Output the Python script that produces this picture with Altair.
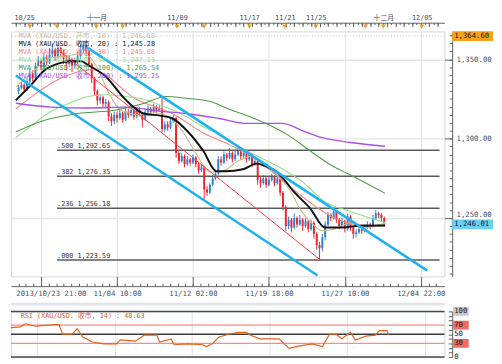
import altair as alt
import pandas as pd

# ---------------- candles (bar index 1..131) ----------------
first_open = 1330
closes = [
    1332, 1334, 1331, 1336,
    1341, 1338, 1346,
    1349, 1345, 1351, 1348, 1353,
    1356, 1352, 1357, 1354, 1350,
    1347, 1350, 1346, 1349, 1352,
    1356, 1359, 1355,
    1347, 1338, 1330, 1324,
    1326, 1322, 1323,
    1314, 1311, 1315, 1313,
    1316, 1312, 1317, 1315, 1318,
    1314, 1318, 1316, 1312, 1317,
    1319, 1317, 1320, 1318, 1319,
    1306,
    1309, 1307, 1311, 1313,
    1291,
    1286, 1289, 1284, 1287, 1285, 1288, 1284,
    1280, 1282,
    1268,
    1266, 1271, 1275, 1278,
    1287, 1285, 1290, 1288,
    1291, 1287, 1290, 1292, 1289, 1291,
    1287, 1290, 1284, 1286,
    1274, 1272, 1275, 1271, 1274, 1276, 1272, 1275,
    1266, 1257, 1245,
    1249, 1244, 1250, 1246, 1249, 1245, 1248, 1243, 1247,
    1240, 1233, 1231,
    1238, 1246, 1252,
    1250, 1254, 1249,
    1245, 1248, 1243, 1251,
    1244, 1240, 1241,
    1243, 1242, 1244, 1246, 1245,
    1250, 1253, 1252,
    1250, 1246.01,
]
highs = [
    1334, 1336, 1335, 1338,
    1344, 1343, 1348,
    1352, 1350, 1354, 1353, 1357,
    1360, 1357, 1360, 1358, 1356,
    1352, 1352, 1351, 1351, 1355,
    1359, 1361.71, 1360,
    1356, 1348, 1339, 1331,
    1328, 1327, 1325,
    1324, 1316, 1317, 1317,
    1319, 1317, 1320, 1319, 1321,
    1319, 1320, 1320, 1317, 1319,
    1321, 1320, 1322, 1321, 1321,
    1326,
    1311, 1311, 1313, 1315,
    1314,
    1292, 1291, 1290, 1289, 1288, 1290, 1289,
    1285, 1284,
    1283,
    1270, 1272, 1277, 1280,
    1289, 1289, 1292, 1291,
    1294, 1292, 1293, 1294, 1293, 1293,
    1292, 1292, 1291, 1288,
    1287, 1276, 1277, 1276, 1276, 1278, 1277, 1277,
    1276, 1267, 1258,
    1251, 1250, 1253, 1251, 1252, 1250, 1250, 1249, 1249,
    1248, 1241, 1235,
    1240, 1248, 1254,
    1253, 1255.6, 1255,
    1250, 1250, 1249, 1253,
    1252, 1245, 1243,
    1245, 1244, 1246, 1248, 1247,
    1252, 1255, 1254,
    1253, 1251,
]
lows = [
    1328, 1331, 1329, 1330,
    1335, 1336, 1337,
    1345, 1343, 1344, 1346, 1347,
    1351, 1349, 1350, 1351, 1347,
    1343, 1345, 1342, 1344, 1347,
    1350, 1354, 1352,
    1345, 1335, 1327, 1321,
    1322, 1320, 1319,
    1311, 1308, 1309, 1310,
    1312, 1310, 1311, 1313, 1314,
    1312, 1313, 1314, 1307, 1311,
    1316, 1315, 1316, 1316, 1317,
    1304,
    1304, 1305, 1306, 1310,
    1288,
    1284, 1285, 1282, 1283, 1283, 1284, 1282,
    1278, 1279,
    1262,
    1264, 1265, 1270, 1274,
    1277, 1283, 1284, 1286,
    1287, 1285, 1286, 1289, 1287, 1288,
    1285, 1286, 1282, 1283,
    1271, 1269, 1271, 1269, 1270, 1273, 1270, 1271,
    1264, 1255, 1242,
    1243, 1241, 1243, 1244, 1245, 1242, 1244, 1241, 1242,
    1237, 1230, 1223.59,
    1229, 1236, 1245,
    1248, 1249, 1247,
    1243, 1244, 1241, 1242,
    1242, 1237, 1238,
    1240, 1240, 1241, 1243, 1243,
    1244, 1249, 1250,
    1248, 1245,
]

# ---------------- moving averages (bar index, price) ----------------
ma10_i = [0, 5.67, 12.3, 19, 24, 29, 32.3, 37.3, 44, 49, 54, 59, 64, 69, 74, 79, 84, 89, 94, 97.3,
          101.3, 105.7, 109, 114, 119, 124, 129, 131.3]
ma10_v = [1332.5, 1341.6, 1350.6, 1352.4, 1353.6, 1344.6, 1331.5, 1318.0, 1315.0, 1316.3, 1314.5, 1305.4,
          1291.0, 1279.0, 1280.0, 1286.0, 1289.0, 1282.0, 1275.0, 1268.0, 1255.0, 1246.0, 1242.0, 1243.5,
          1247.0, 1244.0, 1245.8, 1246.68]
ma20_i = [0, 5.67, 10, 15.67, 19, 23.3, 25.7, 32.3, 38, 42.3, 45.7, 51.3, 55.7, 61.3, 66.7, 71.3, 74.7,
          80.7, 85.7, 89, 93.3, 99, 104.7, 110, 115.7, 122.3, 131.3]
ma20_v = [1324.1, 1334.3, 1342.8, 1347.6, 1348.8, 1348.8, 1346.4, 1338.6, 1326.5, 1319.3, 1315.7, 1314.5,
          1312.7, 1304.2, 1292.2, 1279.5, 1279.5, 1280.7, 1284.3, 1282.5, 1278.3, 1266.3, 1256.0, 1244.0,
          1244.0, 1245.2, 1245.28]
ma30_i = [0, 5.67, 13.3, 21.3, 27.3, 32.3, 38, 42.3, 49, 55.7, 66.7, 75.7, 85.7, 91.3, 99, 106.7, 113.3,
          121.3, 131.3]
ma30_v = [1318.7, 1326.5, 1335.5, 1341.6, 1343.4, 1339.8, 1331.3, 1325.3, 1320.5, 1315.7, 1303.6, 1296.4,
          1287.3, 1279.5, 1267.5, 1257.2, 1250.0, 1245.8, 1245.08]
ma50_i = [0, 5.67, 12.3, 19, 25.7, 32.3, 39, 45.7, 52.3, 60, 65.7, 72.3, 79, 85.7, 93.3, 102.3, 110, 119,
          131.3]
ma50_v = [1300.6, 1308.4, 1316.9, 1322.3, 1326.5, 1327.7, 1326.5, 1324.7, 1320.5, 1314.5, 1308.4, 1302.4,
          1295.2, 1289.2, 1282.5, 1272.3, 1260.2, 1254.2, 1247.13]
ma100_i = [0, 10, 21.3, 35.7, 45.7, 53.3, 61.3, 69, 75.7, 82.3, 89, 96.7, 104.7, 112.3, 119, 131.3]
ma100_v = [1304.2, 1311.4, 1315.7, 1318.1, 1322.3, 1326.5, 1325.3, 1323.5, 1318.7, 1314.5, 1309.6, 1302.4,
           1292.2, 1283.1, 1277.1, 1265.54]
ma200_i = [0, 12.3, 25.7, 39, 50, 61.3, 72.3, 82.3, 94.7, 102.3, 109, 119, 131.3]
ma200_v = [1322.3, 1319.9, 1319.3, 1319.9, 1317.5, 1315.7, 1312.7, 1309.6, 1309.6, 1304.8, 1300.6, 1297.6,
           1295.25]

ma_labels = ["MVA (XAU/USD. 开市, 10)", "MVA (XAU/USD. 收市, 20)", "MVA (XAU/USD. 收市, 30)",
             "MVA (XAU/USD. 收市, 50)", "MVA (XAU/USD. 收市, 100)", "MVA (XAU/USD. 收市, 200)"]
ma_last = [1246.68, 1245.28, 1245.08, 1247.13, 1265.54, 1295.25]

# ---------------- trend lines ----------------
chan_up_i = [25, 146.3]
chan_up_v = [1357.8, 1216.9]
chan_lo_i = [0, 107.3]
chan_lo_v = [1339.8, 1213.9]
red_i = [14.67, 108.3]
red_v = [1356.6, 1223.59]

fib_ratio = [".500", ".382", ".236", ".000"]
fib_level = [1292.65, 1276.35, 1256.18, 1223.59]
fib_start = 14.67

high_mark = 1364.60
last_price = 1246.01

# ---------------- RSI ----------------
rsi_i = [0, 3.3, 5, 9, 10, 15.7, 16.7, 18, 21.3, 23, 25, 28.3, 32.3, 36.7, 38, 43.3, 46.3, 50.7, 51.7,
         55.7, 56.7, 61.3, 66.7, 68, 70, 72.3, 75.7, 79, 81.7, 83.3, 86.7, 90, 93.3, 95, 96.7, 99, 104.7,
         108.3, 110.7, 113, 115, 118, 119.7, 123.3, 126.7, 128, 130.7, 131.3]
rsi_v = [64.6, 66, 73, 67, 69, 71, 71, 50, 50, 62, 44, 33, 29, 29, 37.5, 35, 48, 48, 33, 40, 27, 29, 27,
         23, 29, 44, 50, 54, 54, 48, 40, 40, 40, 29, 19, 23, 29, 23, 50, 50, 40, 54, 37.5, 46, 48, 58, 58,
         48.63]
rsi_last = 48.63
rsi_levels = [100, 70, 50, 30, 0]

# ---------------- axis labels ----------------
grid_idx = [9, 36, 63, 90, 117, 144]
bottom_labels = ["2013/10/23 21:00", "11/04 10:00", "11/12 02:00", "11/19 18:00", "11/27 10:00",
                 "12/04 22:00"]
top_marks = [5, 14.67, 28.67, 38, 57.33, 67, 83, 95.67, 106.67, 124.33, 130.67, 144.33]
top_label_idx = [3, 28.67, 57.33, 83, 95.67, 106.67, 130.67, 144.33]
top_labels = ["10/25", "十一月", "11/09", "11/17", "11/21", "11/25", "十二月", "12/05"]
price_ticks = [1250, 1300, 1350]

# ---------------- layout / style ----------------
W, H, HR = 446, 252, 47
XMAX = 150.67
YMIN, YMAX = 1213.25, 1367.5
MONO = "DejaVu Sans Mono, Noto Sans CJK SC, monospace"
LBL = "#46506a"
TK = "#5e5e5e"
UP, DOWN = "#2d80d8", "#e8262c"
MA_COLORS = ["#cdbb8c", "#111111", "#f4877f", "#93e08f", "#4f9a4a", "#a74cf2"]
MA_WIDTHS = [1.1, 2.0, 1.1, 1.1, 1.1, 1.4]

xs = alt.Scale(domain=[0, XMAX], nice=False, zero=False)
ys = alt.Scale(domain=[YMIN, YMAX], nice=False, zero=False)
rys = alt.Scale(domain=[0, 100], nice=False, zero=False)


def ax(**kw):
    d = dict(title=None, labels=False, ticks=False, domain=False, grid=False)
    d.update(kw)
    return alt.Axis(**d)


def lab_expr(vals, texts):
    arr = "[" + ",".join("'" + t + "'" for t in texts) + "]"
    return arr + "[indexof([" + ",".join(str(v) for v in vals) + "], datum.value)]"


ax_gridx = ax(orient="bottom", values=grid_idx, grid=True, gridColor="#e1e1e1", gridWidth=1)
ax_top_lbl = ax(orient="top", offset=10, values=top_label_idx, labels=True, tickSize=0,
                labelExpr=lab_expr(top_label_idx, top_labels), labelFont=MONO, labelFontSize=7,
                labelColor=LBL, labelPadding=1, labelOverlap=False)
ax_top_minor = ax(orient="bottom", offset=-(H + 9), values=[k * 1.5 for k in range(101)], ticks=True,
                  tickSize=2, tickColor=TK, domain=True, domainColor=TK)
ax_top_major = ax(orient="bottom", offset=-(H + 9), values=[k * 3 for k in range(51)], ticks=True,
                  tickSize=4, tickColor=TK)
ax_bot_minor = ax(orient="top", offset=-(H + 10), values=[round(9 + 2.7 * k, 2) for k in range(-3, 53)],
                  ticks=True, tickSize=3, tickColor=TK, domain=True, domainColor=TK)
ax_bot_major = ax(orient="top", offset=-(H + 10), values=grid_idx, ticks=True, tickSize=10, tickColor=TK)
ax_bot_lbl = ax(orient="bottom", offset=12, values=grid_idx, labels=True, tickSize=0,
                labelExpr=lab_expr(grid_idx, bottom_labels), labelFont=MONO, labelFontSize=7.5,
                labelColor=LBL, labelPadding=2, labelOverlap=False,
                labelAlign={"condition": {"test": "datum.value < 20", "value": "left"}, "value": "center"},
                labelOffset={"condition": {"test": "datum.value < 20", "value": -26}, "value": 0})
ax_right_lbl = ax(orient="right", offset=8, values=price_ticks, labels=True, tickSize=0,
                  format=",.2f", labelFont=MONO, labelFontSize=7.5, labelColor=LBL, labelPadding=4,
                  labelBaseline={"condition": {"test": "datum.value < 1260", "value": "bottom"},
                                 "value": "middle"},
                  domain=True, domainColor=TK, grid=True, gridColor="#e5e5e5", gridWidth=1.5)
ax_right_minor = ax(orient="left", offset=-(W + 8), values=[1215 + 5 * k for k in range(31)], ticks=True,
                    tickSize=3, tickColor=TK)
ax_right_major = ax(orient="left", offset=-(W + 8), values=price_ticks, ticks=True, tickSize=8,
                    tickColor=TK)

# ---------------- main panel ----------------
opens = [first_open] + closes[:-1]
cdf = pd.DataFrame({"i": list(range(1, len(closes) + 1)), "o": opens, "h": highs, "l": lows, "c": closes})
cdf["col"] = [UP if c >= o else DOWN for o, c in zip(opens, closes)]

wick = alt.Chart(cdf).mark_rule(strokeWidth=1).encode(
    x=alt.X("i:Q", scale=xs, axis=ax_gridx),
    y=alt.Y("l:Q", scale=ys, axis=ax_right_lbl),
    y2="h:Q",
    color=alt.Color("col:N", scale=None),
)
body = alt.Chart(cdf).mark_bar(width=2).encode(
    x=alt.X("i:Q", scale=xs, axis=ax_top_lbl),
    y=alt.Y("o:Q", scale=ys, axis=ax_right_minor),
    y2="c:Q",
    color=alt.Color("col:N", scale=None),
)

ma_sets = [(ma10_i, ma10_v), (ma20_i, ma20_v), (ma30_i, ma30_v), (ma50_i, ma50_v), (ma100_i, ma100_v),
           (ma200_i, ma200_v)]
ma_rows = []
for k, (mi, mv) in enumerate(ma_sets):
    for j, (a, b) in enumerate(zip(mi, mv)):
        ma_rows.append({"s": k, "i": a, "v": b, "col": MA_COLORS[k], "w": MA_WIDTHS[k], "ord": j})
ma_df = pd.DataFrame(ma_rows)
ma_back = alt.Chart(ma_df[ma_df.s != 1]).mark_line(interpolate="monotone").encode(
    x=alt.X("i:Q", scale=xs, axis=ax_top_minor),
    y=alt.Y("v:Q", scale=ys, axis=ax_right_major),
    detail="s:N", order="ord:Q",
    color=alt.Color("col:N", scale=None),
    strokeWidth=alt.StrokeWidth("w:Q", scale=None),
)
ma_front = alt.Chart(ma_df[ma_df.s == 1]).mark_line(interpolate="monotone").encode(
    x=alt.X("i:Q", scale=xs, axis=None),
    y=alt.Y("v:Q", scale=ys, axis=None),
    order="ord:Q",
    color=alt.Color("col:N", scale=None),
    strokeWidth=alt.StrokeWidth("w:Q", scale=None),
)

tl_rows = []
for name, ti, tv, col, w in [("up", chan_up_i, chan_up_v, "#1db2ef", 2.5),
                             ("lo", chan_lo_i, chan_lo_v, "#1db2ef", 2.5),
                             ("red", red_i, red_v, "#ff3c3c", 1.0)]:
    for j, (a, b) in enumerate(zip(ti, tv)):
        tl_rows.append({"n": name, "i": a, "v": b, "col": col, "w": w, "ord": j})
tl_df = pd.DataFrame(tl_rows)
trend = alt.Chart(tl_df).mark_line().encode(
    x=alt.X("i:Q", scale=xs, axis=ax_top_major),
    y=alt.Y("v:Q", scale=ys, axis=None),
    detail="n:N", order="ord:Q",
    color=alt.Color("col:N", scale=None),
    strokeWidth=alt.StrokeWidth("w:Q", scale=None),
)

fdf = pd.DataFrame({"lvl": fib_level, "x0": fib_start, "x1": XMAX,
                    "txt": [f"{r}  {v:,.2f}" for r, v in zip(fib_ratio, fib_level)]})
fib_rule = alt.Chart(fdf).mark_rule(color="#5a5a5a", strokeWidth=1.5).encode(
    x=alt.X("x0:Q", scale=xs, axis=ax_bot_minor), x2="x1:Q",
    y=alt.Y("lvl:Q", scale=ys, axis=None),
)
fib_text = alt.Chart(fdf).mark_text(align="left", baseline="bottom", dy=-1, font=MONO, fontSize=7,
                                    color="#333333").encode(
    x=alt.X("x0:Q", scale=xs, axis=ax_bot_major),
    y=alt.Y("lvl:Q", scale=ys, axis=None),
    text="txt:N",
)

tri = alt.Chart(pd.DataFrame({"i": top_marks})).mark_point(
    shape="triangle-down", filled=True, color="#f39c1e", size=26, opacity=1).encode(
    x=alt.X("i:Q", scale=xs, axis=ax_bot_lbl),
    y=alt.value(-5),
)

hi_rule = alt.Chart(pd.DataFrame({"p": [high_mark]})).mark_rule(
    color="#c4c4c4", strokeDash=[1, 2], strokeWidth=1).encode(y=alt.Y("p:Q", scale=ys, axis=None))

bdf = pd.DataFrame({"p": [high_mark, last_price], "col": ["#f7a21b", "#6ccff6"],
                    "t": [f"{high_mark:,.2f}", f"{last_price:,.2f}"]})
pbox = alt.Chart(bdf).mark_tick(orient="horizontal", size=42, thickness=10, opacity=1).encode(
    x=alt.value(W + 29), y=alt.Y("p:Q", scale=ys, axis=None), color=alt.Color("col:N", scale=None))
ptxt = alt.Chart(bdf).mark_text(align="left", baseline="middle", font=MONO, fontSize=7.5,
                                color="#1a1a1a").encode(
    x=alt.value(W + 10), y=alt.Y("p:Q", scale=ys, axis=None), text="t:N")

legend_layers = []
for k, (lab, last) in enumerate(zip(ma_labels, ma_last)):
    legend_layers.append(
        alt.Chart(pd.DataFrame({"t": [f"{lab} : {last:,.2f}"]})).mark_text(
            align="left", baseline="middle", font=MONO, fontSize=7, color=MA_COLORS[k]).encode(
            x=alt.value(8), y=alt.value(5 + 8.2 * k), text="t:N"))

main = alt.layer(wick, fib_rule, body, ma_back, ma_front, trend, fib_text, tri, hi_rule, pbox, ptxt,
                 *legend_layers).properties(width=W, height=H).resolve_axis(x="independent", y="independent")

# ---------------- RSI panel ----------------
ax_rsi_grid = ax(orient="bottom", values=grid_idx, grid=True, gridColor="#e1e1e1", gridWidth=1)
ax_rsi_dom = ax(orient="right", offset=8, domain=True, domainColor=TK, tickSize=0)
ax_rsi_sep = ax(orient="top", offset=8, domain=True, domainColor="#dfe4ec", domainWidth=3, tickSize=0)
ax_rsi_ticks = ax(orient="left", offset=-(W + 8), values=list(range(0, 101, 10)), ticks=True, tickSize=4,
                  tickColor=TK)

rdf = pd.DataFrame({"i": rsi_i, "v": rsi_v})
rline = alt.Chart(rdf).mark_line(color="#e8621e", strokeWidth=1.2).encode(
    x=alt.X("i:Q", scale=xs, axis=ax_rsi_grid),
    y=alt.Y("v:Q", scale=rys, axis=ax_rsi_dom),
)
ldf = pd.DataFrame({"lv": rsi_levels, "x0": 0, "x1": XMAX,
                    "col": ["#4a4a4a", "#ff8a80", "#3a3a3a", "#ff8a80", "#4a4a4a"]})
rlev = alt.Chart(ldf).mark_rule(strokeWidth=1.5).encode(
    x=alt.X("x0:Q", scale=xs, axis=ax_rsi_sep), x2="x1:Q",
    y=alt.Y("lv:Q", scale=rys, axis=ax_rsi_ticks),
    color=alt.Color("col:N", scale=None),
)
rb = pd.DataFrame({"lv": [100, 70, 30], "col": ["#c8c8c8", "#f26b63", "#f26b63"]})
rbox = alt.Chart(rb).mark_tick(orient="horizontal", size=16, thickness=9, opacity=1).encode(
    x=alt.value(W + 17), y=alt.Y("lv:Q", scale=rys, axis=None), color=alt.Color("col:N", scale=None))
rt = pd.DataFrame({"lv": rsi_levels, "t": [str(v) for v in rsi_levels]})
rtxt = alt.Chart(rt).mark_text(align="left", baseline="middle", font=MONO, fontSize=7.5,
                               color="#1a1a1a").encode(
    x=alt.value(W + 10), y=alt.Y("lv:Q", scale=rys, axis=None), text="t:N")
rtitle = alt.Chart(pd.DataFrame({"t": [f"RSI (XAU/USD. 收市, 14) : {rsi_last:.2f}"]})).mark_text(
    align="left", baseline="middle", font=MONO, fontSize=7, color="#e05a28").encode(
    x=alt.value(10), y=alt.value(5), text="t:N")

rsi = alt.layer(rlev, rline, rbox, rtxt, rtitle).properties(width=W, height=HR).resolve_axis(
    x="independent", y="independent")

chart = alt.vconcat(main, rsi, spacing=5).resolve_scale(x="independent", y="independent").properties(
    padding=0, background="white").configure_view(stroke="#d2d6dc", strokeWidth=1)

chart.save("out.html", embed_options={"renderer": "svg", "actions": False})
